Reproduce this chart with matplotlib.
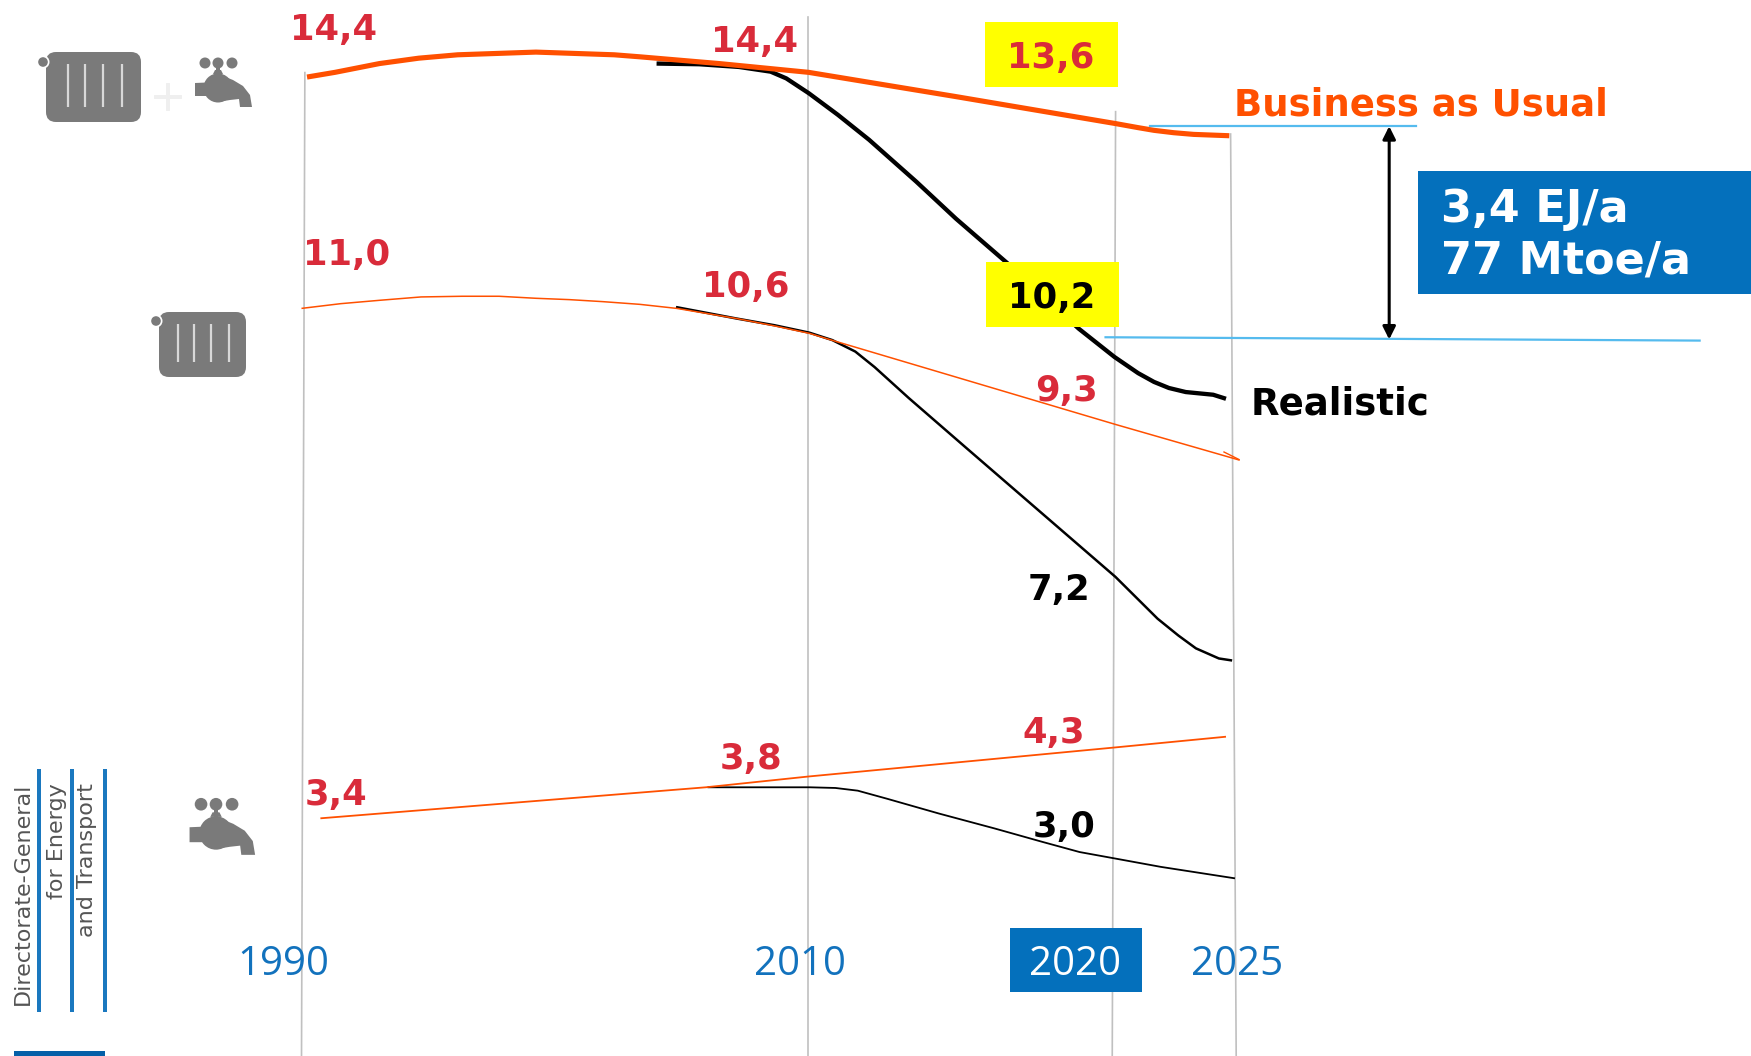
import numpy as np
import matplotlib
matplotlib.use("Agg")
import matplotlib.pyplot as plt
from matplotlib.patches import Rectangle, FancyBboxPatch, Circle, Polygon

# ---------- data (years, EJ/a) ----------
total_bau_years = [1990.13, 1991.24, 1993.0, 1994.56, 1996.1, 1997.65, 1999.2, 2000.75, 2002.3, 2003.32, 2006.46,
                   2010, 2014.82, 2020.05, 2021.0, 2021.67, 2022.5, 2023.34, 2024.85]
total_bau_vals = [14.4, 14.47, 14.6, 14.68, 14.73, 14.75, 14.77, 14.75, 14.73, 14.70, 14.60,
                  14.47, 14.11, 13.71, 13.65, 13.61, 13.575, 13.55, 13.53]
total_real_years = [2003.98, 2005.67, 2007.24, 2008.5, 2009.12, 2010.01, 2010.96, 2011.98, 2013.52, 2014.82, 2016.5,
                    2018.83, 2020, 2021.0, 2021.67, 2022.3, 2023.01, 2024.17, 2024.71]
total_real_vals = [14.60, 14.59, 14.55, 14.48, 14.38, 14.16, 13.84, 13.47, 12.85, 12.30, 11.64,
                   10.67, 10.25, 10.01, 9.88, 9.79, 9.73, 9.69, 9.63]
heat_bau_years = [1989.91, 1991.46, 1993, 1994.65, 1996.28, 1997.74, 1999.2, 2000.53, 2001.86, 2003.32, 2004.78,
                  2007.15, 2008.66, 2010.03, 2010.90, 2020.04, 2025.29]
heat_bau_vals = [10.97, 11.04, 11.09, 11.14, 11.15, 11.15, 11.12, 11.10, 11.07, 11.03, 10.97,
                 10.82, 10.71, 10.60, 10.48, 9.25, 8.72]
heat_real_years = [2004.75, 2007.15, 2008.66, 2010.03, 2010.78, 2011.53, 2012.16, 2013.28, 2015.16, 2017.66, 2020.04,
                   2021.82, 2022.7, 2023.44, 2024.41, 2024.97]
heat_real_vals = [10.99, 10.82, 10.72, 10.61, 10.50, 10.33, 10.10, 9.64, 8.90, 7.92, 6.99,
                  6.37, 6.12, 5.93, 5.78, 5.75]
water_bau_years = [1990.66, 2005.93, 2010, 2020, 2024.71]
water_bau_vals = [3.41, 3.87, 4.03, 4.46, 4.62]
water_real_years = [2006.0, 2010.04, 2010.88, 2011.61, 2012.57, 2014.27, 2016.08, 2017.65, 2018.86, 2019.95, 2021.96, 2025.09]
water_real_vals = [3.87, 3.87, 3.86, 3.82, 3.70, 3.48, 3.26, 3.06, 2.91, 2.82, 2.69, 2.52]

year_labels = ["1990", "2010", "2020", "2025"]
red_labels = ["14,4", "14,4", "13,6", "11,0", "10,6", "9,3", "3,4", "3,8", "4,3"]
black_labels = ["10,2", "7,2", "3,0"]
saving_lines = ["3,4 EJ/a", "77 Mtoe/a"]
series_names = ["Business as Usual", "Realistic"]
dg_lines = ["Directorate-General", "for Energy", "and Transport"]

W, H = 1751, 1056
K = W / 1568
ORANGE = "#ff5000"
RED = "#d92b3a"
BLUE = "#0470bc"
YEAR_BLUE = "#1272bd"
GREY = "#7a7a7a"
LINE_GREY = "#c0c0c0"
SKY = "#55bbee"

fig = plt.figure(figsize=(W / 100, H / 100), dpi=100, facecolor="white")


def pixel_axes(z):
    a = fig.add_axes([0, 0, 1, 1], zorder=z)
    a.set_xlim(0, W)
    a.set_ylim(H, 0)
    a.axis("off")
    a.patch.set_alpha(0)
    return a


bg = pixel_axes(0)
fg = pixel_axes(2)

# ---------- main axes: non-uniform time axis, linear EJ axis ----------
ax = fig.add_axes([0, 0, 1, 1], zorder=1)
ax.patch.set_alpha(0)
ax.axis("off")
anchor_y = np.array([1977.96, 1990, 2010, 2020, 2025, 2046.9])
anchor_p = np.array([0, 272, 724, 998, 1104, 1568]) * K
ax.set_xscale("function", functions=(lambda t: np.interp(t, anchor_y, anchor_p),
                                     lambda p: np.interp(p, anchor_p, anchor_y)))
ax.set_xlim(anchor_y[0], anchor_y[-1])
ax.set_ylim(14.4 - (H / K - 69) / 60.4, 14.4 + 69 / 60.4)

kw = dict(solid_capstyle="butt", solid_joinstyle="round")
ax.plot(total_real_years, total_real_vals, color="black", lw=3.1, **kw)
ax.plot(total_bau_years, total_bau_vals, color=ORANGE, lw=3.7, **kw)
ax.plot(heat_real_years, heat_real_vals, color="black", lw=1.8, **kw)
ax.plot(heat_bau_years, heat_bau_vals, color=ORANGE, lw=1.1, **kw)
ax.plot(water_real_years, water_real_vals, color="black", lw=1.3, **kw)
ax.plot(water_bau_years, water_bau_vals, color=ORANGE, lw=1.3, **kw)

# ---------- vertical guide lines ----------
for x0, y0, x1, y1 in [(273, 65, 270, 946), (724, 15, 724, 946), (999, 100, 996, 946), (1102, 120, 1107, 946)]:
    bg.plot([x0 * K, x1 * K], [y0 * K, y1 * K], color=LINE_GREY, lw=1.2)

# small barb at the end of the heating trend
fg.plot([1224, 1239], [452, 459.5], color=ORANGE, lw=1.0)


# ---------- icons ----------
def radiator(a, x0, x1, y0, y1, cx, cy, bars):
    a.add_patch(FancyBboxPatch((x0 + 8, y0 + 8), x1 - x0 - 16, y1 - y0 - 16,
                               boxstyle="round,pad=8,rounding_size=10", fc=GREY, ec="none"))
    a.add_patch(Circle((cx, cy), 6.5, fc="white", ec="none"))
    a.add_patch(Circle((cx, cy), 4.8, fc=GREY, ec="none"))
    for b in bars:
        a.plot([b, b], [y0 + 12, y1 - 15], color="#d8d8d8", lw=1.6, solid_capstyle="butt")


def faucet(a, dx, dy, s=1.0):
    def T(x, y):
        return dx + x * s, dy + y * s
    for kx in (-13, 0, 14):
        a.add_patch(Circle(T(kx, -25), 5.5 * s, fc=GREY, ec="none"))
    a.add_patch(Rectangle(T(-1.8, -25), 3.6 * s, 15 * s, fc=GREY, ec="none"))
    a.add_patch(Polygon([T(-5, -14), T(5, -14), T(3, -18), T(-3, -18)], fc=GREY, ec="none"))
    a.add_patch(Circle(T(0, 0), 14.5 * s, fc=GREY, ec="none"))
    a.add_patch(Polygon([T(-23, -5), T(0, -6), T(0, 8), T(-23, 8)], fc=GREY, ec="none"))
    a.add_patch(Polygon([T(0, -14), T(15, -8), T(25, -2), T(32, 7), T(34, 19), T(22, 19),
                         T(21, 11), T(12, 12), T(0, 14)], fc=GREY, ec="none"))


radiator(fg, 46, 141, 52, 122, 43, 62, [68, 85, 103, 122])
radiator(fg, 159, 246, 312, 377, 156, 321, [178, 194, 211, 229])
fg.plot([156, 180], [97, 97], color="#efefef", lw=2.8)
fg.plot([168, 168], [85, 109], color="#efefef", lw=2.8)
faucet(fg, 218, 88, 1.0)
faucet(fg, 216, 833, 1.15)

# ---------- coloured boxes ----------
fg.add_patch(Rectangle((882 * K, 20 * K), 119 * K, 58 * K, fc="#ffff00", ec="none"))
fg.add_patch(Rectangle((883 * K, 235 * K), 119 * K, 58 * K, fc="#ffff00", ec="none"))
fg.add_patch(Rectangle((904 * K, 831 * K), 119 * K, 57 * K, fc=BLUE, ec="none"))
fg.add_patch(Rectangle((1270 * K, 153 * K), 298 * K, 110 * K, fc=BLUE, ec="none"))
fg.add_patch(Rectangle((14, 1051), 91, 6, fc="#0560a8", ec="none"))
for bx in (39, 72, 105):
    fg.add_patch(Rectangle((bx - 2, 769), 4, 243, fc="#1a78bf", ec="none"))

# ---------- gap bracket ----------
fg.plot([1030 * K, 1268 * K], [113 * K, 113 * K], color=SKY, lw=1.6)
fg.plot([990 * K, 1522 * K], [302 * K, 305 * K], color=SKY, lw=1.6)
fg.annotate("", xy=(1244 * K, 113 * K), xytext=(1244 * K, 304 * K),
            arrowprops=dict(arrowstyle="<|-|>", color="black", lw=2.2, shrinkA=0, shrinkB=0, mutation_scale=19))

# ---------- texts ----------
BOLD = dict(family="DejaVu Sans", weight="bold", ha="center", va="center")
red_pos = [(299, 27), (676, 38), (941, 52), (310, 228), (668, 257), (955, 350), (301, 712), (673, 680), (944, 656)]
for s, (x, y) in zip(red_labels, red_pos):
    fg.text(x * K, y * K, s, color=RED, fontsize=25.5, **BOLD)
black_pos = [(942, 267), (948, 528), (953, 741)]
for s, (x, y) in zip(black_labels, black_pos):
    fg.text(x * K, y * K, s, color="black", fontsize=25.5, **BOLD)

year_pos = [(254, 864), (716, 864), (963, 864), (1108, 864)]
year_cols = [YEAR_BLUE, YEAR_BLUE, "white", YEAR_BLUE]
for s, (x, y), c in zip(year_labels, year_pos, year_cols):
    fg.text(x * K, y * K, s, color=c, fontsize=29, family="Open Sans", ha="center", va="center")

LEFT = dict(family="DejaVu Sans", weight="bold", ha="left", va="center")
fg.text(1105 * K, 94 * K, series_names[0], color=ORANGE, fontsize=26.7, **LEFT)
fg.text(1120 * K, 362 * K, series_names[1], color="black", fontsize=26.7, **LEFT)
fg.text(1290 * K, 188 * K, saving_lines[0], color="white", fontsize=32, **LEFT)
fg.text(1290 * K, 234 * K, saving_lines[1], color="white", fontsize=32, **LEFT)

for s, x in zip(dg_lines, (23, 57, 87)):
    fg.text(x, 783, s, color="#555555", fontsize=16, family="DejaVu Sans", rotation=90,
            ha="center", va="top")

fig.savefig("out.png", dpi=100, facecolor="white")
